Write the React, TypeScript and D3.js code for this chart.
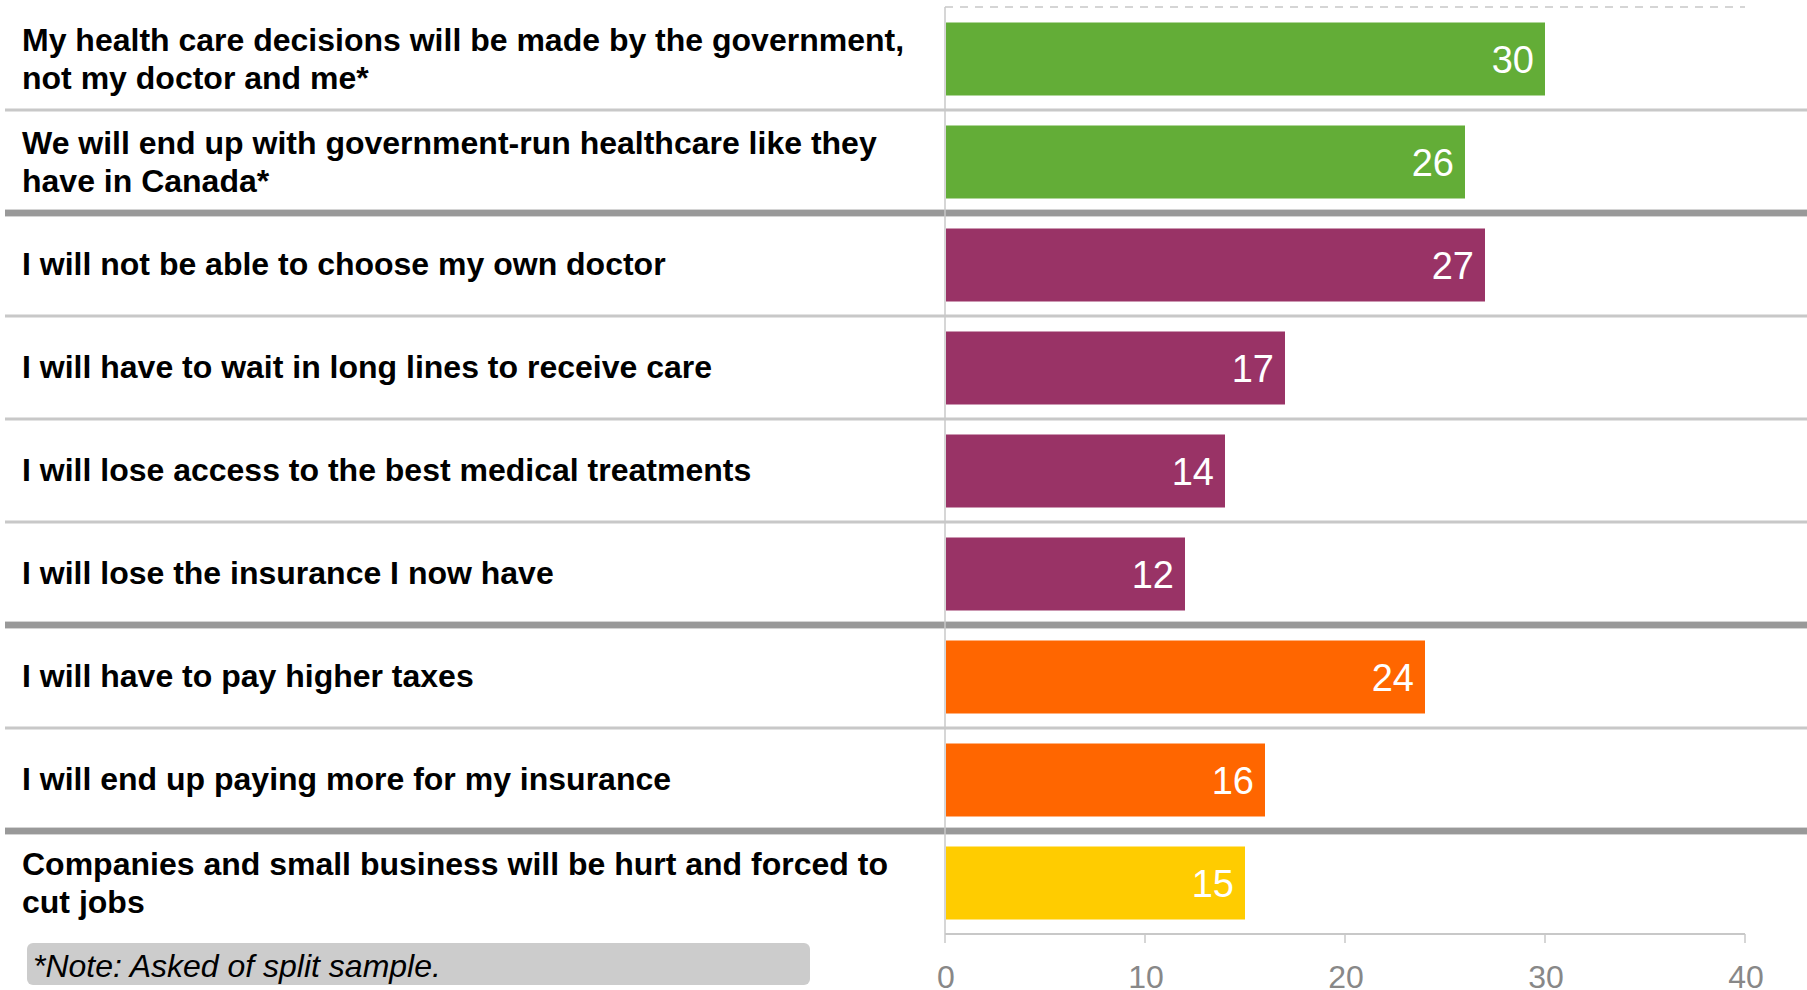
import React from "react";
import * as d3 from "d3";

const categories: string[][] = [
  ["My health care decisions will be made by the government,", "not my doctor and me*"],
  ["We will end up with government-run healthcare like they", "have in Canada*"],
  ["I will not be able to choose my own doctor"],
  ["I will have to wait in long lines to receive care"],
  ["I will lose access to the best medical treatments"],
  ["I will lose the insurance I now have"],
  ["I will have to pay higher taxes"],
  ["I will end up paying more for my insurance"],
  ["Companies and small business will be hurt and forced to", "cut jobs"],
];
const values: number[] = [30, 26, 27, 17, 14, 12, 24, 16, 15];
const groups: number[] = [0, 0, 1, 1, 1, 1, 2, 2, 3];
const groupColors: string[] = ["#63AD37", "#993366", "#FF6600", "#FFCC00"];
const thickAfter: number[] = [1, 5, 7];
const xTicks: number[] = [0, 10, 20, 30, 40];
const note = "*Note: Asked of split sample.";

export default function App() {
  const W = 1807, H = 990;
  const x = d3.scaleLinear().domain([0, 40]).range([945, 1745]);
  const idx = categories.map((_, i) => i);
  const y = d3.scaleBand<number>().domain(idx).range([7, 934]).paddingInner(0).paddingOuter(0);
  const bw = y.bandwidth();
  const font = "'Liberation Sans', Arial, sans-serif";

  return (
    <svg width={W} height={H} style={{ position: "absolute", left: 0, top: 0, background: "#fff" }} fontFamily={font}>
      <rect x={0} y={0} width={W} height={H} fill="#fff" />
      {/* top dashed line */}
      <line x1={x(0)} x2={x(40)} y1={7} y2={7} stroke="#c8c8c8" strokeWidth={1.5} strokeDasharray="8,7" />
      {/* separators */}
      {idx.slice(0, -1).map((i) => {
        const yy = (y(i) as number) + bw;
        const thick = thickAfter.includes(i);
        return thick ? (
          <g key={"s" + i}>
            <line x1={5} x2={W} y1={yy} y2={yy} stroke="#d4d4d4" strokeWidth={8} />
            <line x1={5} x2={W} y1={yy} y2={yy} stroke="#999999" strokeWidth={6} />
          </g>
        ) : (
          <line key={"s" + i} x1={5} x2={W} y1={yy} y2={yy} stroke="#c8c8c8" strokeWidth={3} />
        );
      })}
      {/* vertical axis */}
      <line x1={x(0)} x2={x(0)} y1={7} y2={934} stroke="#c8c8c8" strokeWidth={1.5} />
      {/* bars */}
      {idx.map((i) => {
        const top = (y(i) as number) + 15.5;
        const h = bw - 30;
        return (
          <g key={"b" + i}>
            <rect x={x(0) + 1} y={top} width={x(values[i]) - x(0) - 1} height={h} fill={groupColors[groups[i]]} />
            <text x={x(values[i]) - 11} y={top + h / 2 + 14} textAnchor="end" fill="#fff" fontSize={38}>
              {values[i]}
            </text>
          </g>
        );
      })}
      {/* category labels */}
      {idx.map((i) => {
        const c = (y(i) as number) + bw / 2;
        const lines = categories[i];
        const lh = 38;
        const start = c - ((lines.length - 1) * lh) / 2 - (lines.length > 1 ? 0 : 1.5) + 11.5;
        return (
          <text key={"l" + i} x={22} fontSize={32} fontWeight="bold" fill="#000">
            {lines.map((t, k) => (
              <tspan key={k} x={22} y={start + k * lh}>
                {t}
              </tspan>
            ))}
          </text>
        );
      })}
      {/* x axis */}
      <line x1={x(0)} x2={x(40)} y1={934} y2={934} stroke="#c8c8c8" strokeWidth={2} />
      {xTicks.map((t) => (
        <g key={"t" + t}>
          <line x1={x(t)} x2={x(t)} y1={934} y2={943} stroke="#c8c8c8" strokeWidth={1.5} />
          <text x={x(t) + 1} y={988} textAnchor="middle" fill="#888888" fontSize={32}>
            {t}
          </text>
        </g>
      ))}
      {/* note */}
      <rect x={27} y={943} width={783} height={42} rx={6} fill="#cccccc" />
      <text x={33} y={977} fontSize={32} fontStyle="italic" fill="#000">
        {note}
      </text>
    </svg>
  );
}
